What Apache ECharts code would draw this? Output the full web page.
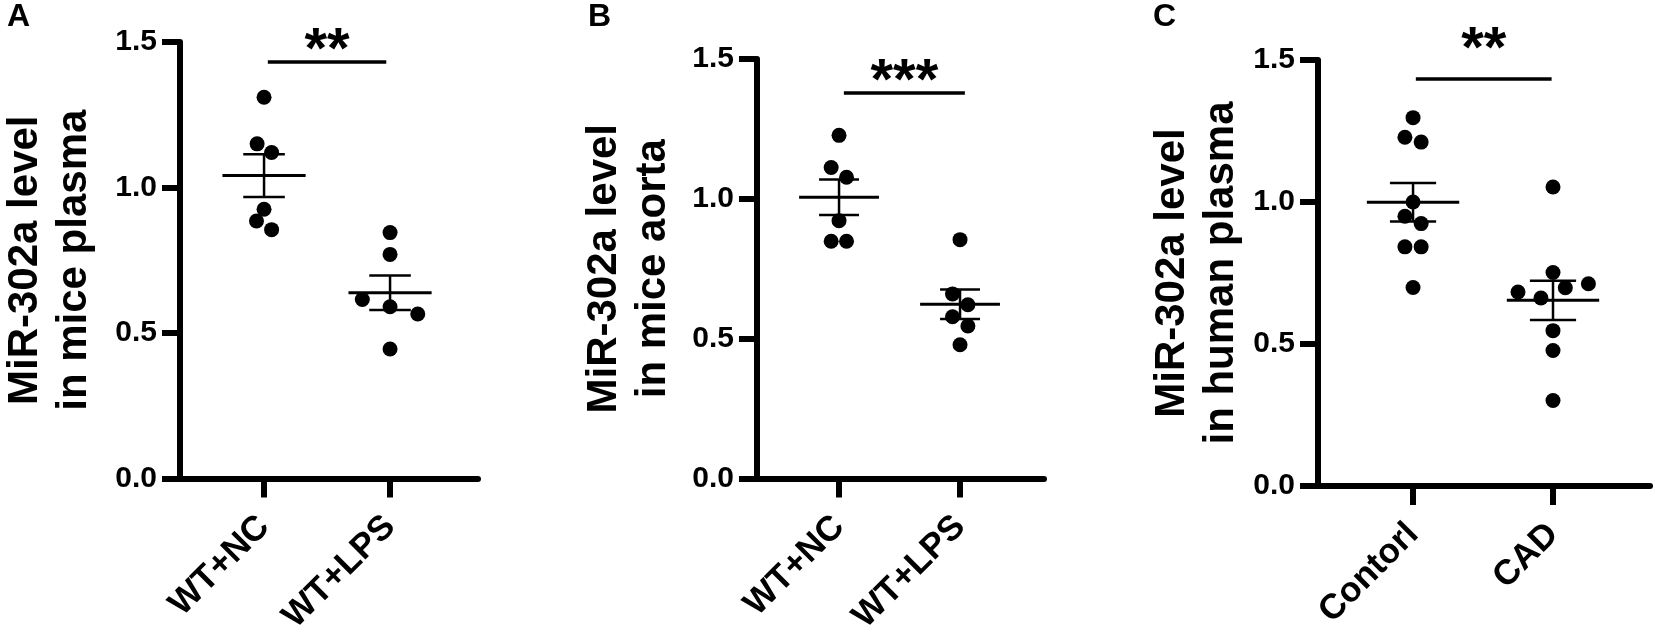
<!DOCTYPE html>
<html>
<head>
<meta charset="utf-8">
<script src="https://cdn.jsdelivr.net/npm/echarts@6/dist/echarts.min.js"></script>
<style>
  html, body { margin: 0; padding: 0; background: #fff; }
  #chart { width: 1655px; height: 637px; }
</style>
</head>
<body>
<div id="chart"></div>
<script>
// ---------------- data ----------------
const panelLetters = ['A', 'B', 'C'];
const yTitles = [
  'MiR-302a level\nin mice plasma',
  'MiR-302a level\nin mice aorta',
  'MiR-302a level\nin human plasma'
];
const catsA = ['WT+NC', 'WT+LPS'];
const catsB = ['WT+NC', 'WT+LPS'];
const catsC = ['Contorl', 'CAD'];
const yTicks = [0, 0.5, 1.0, 1.5];

// Panel A
const aNC = [1.31, 1.15, 1.12, 0.925, 0.885, 0.855];
const aNCjit = [0, -0.055, 0.06, 0, -0.06, 0.06];
const aLPS = [0.845, 0.77, 0.615, 0.59, 0.565, 0.445];
const aLPSjit = [0, 0, -0.22, 0, 0.22, 0];
// Panel B
const bNC = [1.227, 1.112, 1.077, 0.922, 0.848, 0.848];
const bNCjit = [0, -0.065, 0.062, 0, -0.065, 0.062];
const bLPS = [0.854, 0.66, 0.621, 0.578, 0.545, 0.478];
const bLPSjit = [0, -0.062, 0.065, -0.062, 0.065, 0];
// Panel C
const cCon = [1.297, 1.228, 1.211, 1.0, 0.95, 0.924, 0.842, 0.842, 0.699];
const cConJit = [0, -0.058, 0.058, 0, -0.058, 0.058, -0.058, 0.058, 0];
const cCAD = [1.053, 0.752, 0.683, 0.662, 0.698, 0.712, 0.547, 0.477, 0.301];
const cCADjit = [0, 0, -0.25, -0.086, 0.088, 0.253, 0, 0, 0];

// significance annotations: [x start, x end, bar level, star level]
const sigA = [1.03, 1.97, 1.431, 1.515];
const sigB = [1.04, 2.04, 1.378, 1.465];
const sigC = [1.02, 1.99, 1.433, 1.583];
const starsText = ['**', '***', '**'];

// ---------------- helpers ----------------
const FONT = '"Liberation Sans", Arial, Helvetica, sans-serif';
function pts(vals, jit, cat) { return vals.map((v, i) => [cat + jit[i], v]); }
function mean(a) { return a.reduce((s, v) => s + v, 0) / a.length; }
function sem(a) {
  const m = mean(a);
  const v = a.reduce((s, x) => s + (x - m) * (x - m), 0) / (a.length - 1);
  return Math.sqrt(v) / Math.sqrt(a.length);
}

const groups = [
  { cats: catsA, g1: aNC, j1: aNCjit, g2: aLPS, j2: aLPSjit, sig: sigA,
    grid: { left: 173, top: 42, width: 305, height: 437 }, xmin: 0.333, xmax: 2.698, nameGap: 81 },
  { cats: catsB, g1: bNC, j1: bNCjit, g2: bLPS, j2: bLPSjit, sig: sigB,
    grid: { left: 757, top: 59, width: 287, height: 424 }, xmin: 0.322, xmax: 2.694, nameGap: 79 },
  { cats: catsC, g1: cCon, j1: cConJit, g2: cCAD, j2: cCADjit, sig: sigC,
    grid: { left: 1318, top: 60, width: 332, height: 426 }, xmin: 0.321, xmax: 2.693, nameGap: 72 }
];

function renderMeanSem(params, api) {
  const x = api.value(0), m = api.value(1), s = api.value(2);
  const c = (a, b) => api.coord([a, b]);
  const L = c(x - 0.33, m), R = c(x + 0.33, m);
  const top = c(x, m + s), bot = c(x, m - s);
  const t1 = c(x - 0.165, m + s), t2 = c(x + 0.165, m + s);
  const b1 = c(x - 0.165, m - s), b2 = c(x + 0.165, m - s);
  const st = { stroke: '#000', lineWidth: 3 };
  const st2 = { stroke: '#000', lineWidth: 2.5 };
  return { type: 'group', children: [
    { type: 'line', shape: { x1: L[0], y1: L[1], x2: R[0], y2: R[1] }, style: st },
    { type: 'line', shape: { x1: top[0], y1: top[1], x2: bot[0], y2: bot[1] }, style: st2 },
    { type: 'line', shape: { x1: t1[0], y1: t1[1], x2: t2[0], y2: t2[1] }, style: st2 },
    { type: 'line', shape: { x1: b1[0], y1: b1[1], x2: b2[0], y2: b2[1] }, style: st2 }
  ]};
}

function makeSigRenderer(panel) {
  return function (params, api) {
    const x1 = api.value(0), x2 = api.value(1), y = api.value(2), ys = api.value(3);
    const p1 = api.coord([x1, y]), p2 = api.coord([x2, y]);
    const ps = api.coord([(x1 + x2) / 2, ys]);
    const fs = 58;
    return { type: 'group', children: [
      { type: 'line', shape: { x1: p1[0], y1: p1[1], x2: p2[0], y2: p2[1] },
        style: { stroke: '#000', lineWidth: 3.5 } },
      { type: 'text', style: { text: starsText[panel], x: ps[0], y: ps[1] + 0.25 * fs,
        fill: '#000', fontSize: fs, fontWeight: 'bold', fontFamily: FONT,
        align: 'center', verticalAlign: 'middle' } }
    ]};
  };
}

const grid = [], xAxis = [], yAxis = [], series = [], graphic = [];
const letterX = [7, 588, 1153];
groups.forEach((g, i) => {
  grid.push(g.grid);
  xAxis.push({
    type: 'value', gridIndex: i, min: g.xmin, max: g.xmax,
    axisLine: { show: true, onZero: false, lineStyle: { color: '#000', width: 6 } },
    axisTick: { show: true, customValues: [1, 2], length: 19, lineStyle: { color: '#000', width: 6 } },
    axisLabel: { show: true, customValues: [1, 2], formatter: v => g.cats[Math.round(v) - 1],
      rotate: 45, margin: 43, color: '#000', fontSize: 35, fontWeight: 'bold', fontFamily: FONT },
    splitLine: { show: false }
  });
  yAxis.push({
    type: 'value', gridIndex: i, min: 0, max: 1.5, interval: 0.5,
    name: yTitles[i], nameLocation: 'middle', nameRotate: 90, nameGap: g.nameGap,
    nameTextStyle: { color: '#000', fontSize: 42, fontWeight: 'bold', fontFamily: FONT, lineHeight: 49 },
    axisLine: { show: true, lineStyle: { color: '#000', width: 6 } },
    axisTick: { show: true, length: 18, lineStyle: { color: '#000', width: 6 } },
    axisLabel: { show: true, margin: 23, color: '#000', fontSize: 30, fontWeight: 'bold', fontFamily: FONT,
      formatter: v => v.toFixed(1) },
    splitLine: { show: false }
  });
  series.push({
    type: 'scatter', xAxisIndex: i, yAxisIndex: i, symbol: 'circle', symbolSize: 15,
    itemStyle: { color: '#000', opacity: 1 }, z: 3,
    data: pts(g.g1, g.j1, 1).concat(pts(g.g2, g.j2, 2))
  });
  series.push({
    type: 'custom', xAxisIndex: i, yAxisIndex: i, renderItem: renderMeanSem, z: 4,
    encode: { x: 0, y: 1 }, silent: true,
    data: [[1, mean(g.g1), sem(g.g1)], [2, mean(g.g2), sem(g.g2)]]
  });
  series.push({
    type: 'custom', xAxisIndex: i, yAxisIndex: i, renderItem: makeSigRenderer(i), z: 4,
    encode: { x: [0, 1], y: 2 }, silent: true, clip: false,
    data: [g.sig]
  });
  graphic.push({ type: 'text', left: letterX[i], top: 1,
    style: { text: panelLetters[i], fill: '#000', font: 'bold 32px ' + FONT } });
});

const chart = echarts.init(document.getElementById('chart'), null, { renderer: 'canvas' });
chart.setOption({
  animation: false,
  backgroundColor: '#fff',
  grid, xAxis, yAxis, series, graphic
});
</script>
</body>
</html>
